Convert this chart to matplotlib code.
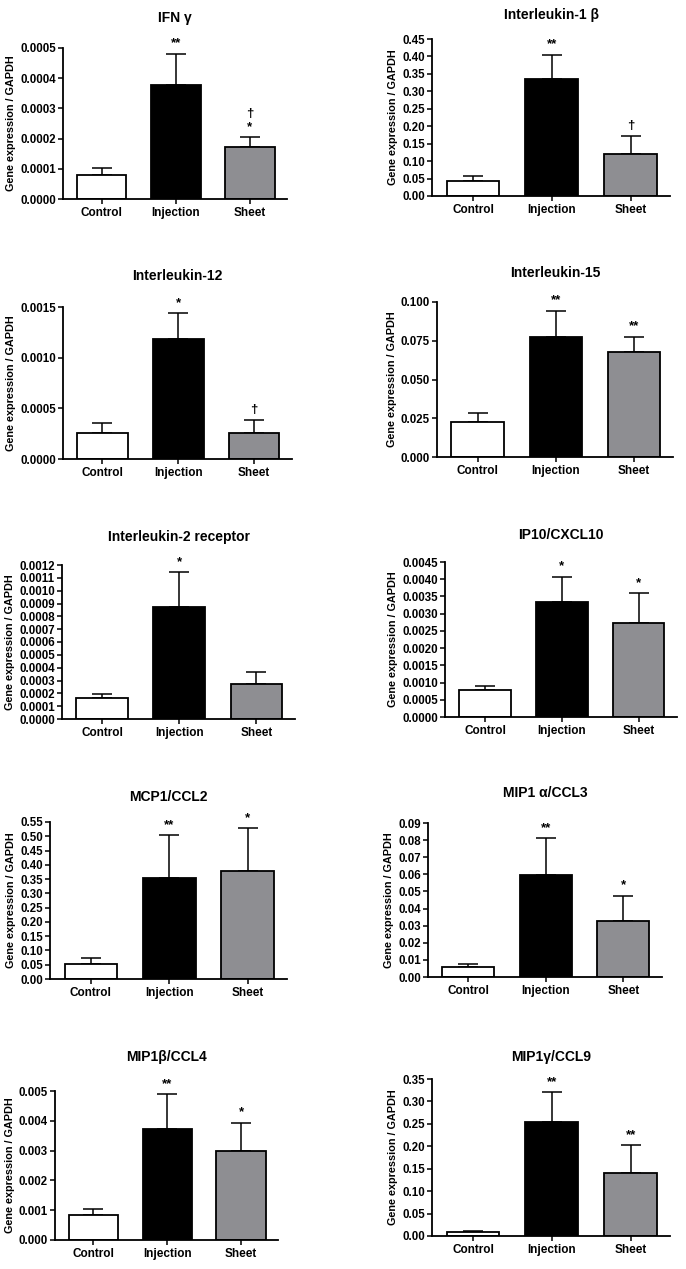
import numpy as np
import matplotlib
matplotlib.use("Agg")
import matplotlib.pyplot as plt

plt.rcParams['font.family'] = ['Liberation Sans', 'DejaVu Sans']
plt.rcParams['font.weight'] = 'bold'

# data
groups = ["Control", "Injection", "Sheet"]
titles = ["IFN γ", "Interleukin-1 β", "Interleukin-12", "Interleukin-15",
          "Interleukin-2 receptor", "IP10/CXCL10", "MCP1/CCL2", "MIP1 α/CCL3",
          "MIP1β/CCL4", "MIP1γ/CCL9"]
means = [
    [0.000078, 0.000376, 0.000172],
    [0.043, 0.336, 0.120],
    [0.00026, 0.00118, 0.00026],
    [0.0226, 0.0772, 0.0677],
    [0.000163, 0.00087, 0.000275],
    [0.000774, 0.00334, 0.00274],
    [0.054, 0.353, 0.377],
    [0.0057, 0.0597, 0.0327],
    [0.00084, 0.00374, 0.00299],
    [0.0089, 0.254, 0.141],
]
sems = [
    [0.000023, 0.000105, 0.000033],
    [0.014, 0.069, 0.052],
    [0.000098, 0.00026, 0.000124],
    [0.006, 0.0172, 0.0099],
    [0.000034, 0.000275, 0.000095],
    [0.000126, 0.00073, 0.00086],
    [0.018, 0.150, 0.152],
    [0.0021, 0.0215, 0.0149],
    [0.00019, 0.00115, 0.00095],
    [0.003, 0.066, 0.061],
]
marks = [
    ["", "**", "†\n*"],
    ["", "**", "†"],
    ["", "*", "†"],
    ["", "**", "**"],
    ["", "*", ""],
    ["", "*", "*"],
    ["", "**", "*"],
    ["", "**", "*"],
    ["", "**", "*"],
    ["", "**", "**"],
]
# y axis: top, step, decimals
ytop = [0.0005, 0.45, 0.0015, 0.100, 0.0012, 0.0045, 0.55, 0.09, 0.005, 0.35]
ystep = [0.0001, 0.05, 0.0005, 0.025, 0.0001, 0.0005, 0.05, 0.01, 0.001, 0.05]
ydec = [4, 2, 4, 3, 4, 4, 2, 2, 3, 2]

# axes boxes in pixels: left, top, right, bottom ; title gap in px
boxes = [
    (63, 48, 287, 199), (432, 39, 670, 196),
    (63, 307, 292, 459), (437, 302, 673, 457),
    (62, 565, 295, 719), (445, 562, 677, 717),
    (50, 822, 287, 979), (428, 823, 662, 977),
    (55, 1091, 278, 1240), (432, 1079, 670, 1236),
]
title_gap = [26, 20, 27, 25, 24, 23, 21, 26, 30, 18]

W, H = 686, 1269
fig = plt.figure(figsize=(W / 100, H / 100), dpi=100)
colors = ["white", "black", "#8e8e92"]
x = np.arange(len(groups))

for i in range(len(titles)):
    l, t, r, b = boxes[i]
    ax = fig.add_axes([l / W, 1 - b / H, (r - l) / W, (b - t) / H])
    ax.bar(x, means[i], width=0.67, color=colors, edgecolor="black",
           linewidth=1.3, zorder=2)
    ax.errorbar(x, means[i], yerr=[np.zeros(3), sems[i]], fmt="none",
                ecolor="black", elinewidth=1.1, capsize=7, capthick=1.1,
                zorder=1)
    for j in range(3):
        if marks[i][j]:
            ax.annotate(marks[i][j], (x[j], means[i][j] + sems[i][j]),
                        xytext=(0, 3), textcoords="offset points",
                        ha="center", va="bottom", fontsize=9.5,
                        fontweight="bold", linespacing=1.1)
    ax.set_xlim(-0.52, 2.5)
    ax.set_ylim(0, ytop[i])
    ax.set_yticks(np.arange(0, ytop[i] + ystep[i] / 2, ystep[i]))
    ax.set_yticklabels([f"{v:.{ydec[i]}f}" for v in ax.get_yticks()])
    ax.set_xticks(x)
    ax.set_xticklabels(groups)
    ax.tick_params(axis="both", width=1.1, length=3.5, labelsize=8.3, pad=1.5)
    ax.tick_params(axis="x", labelsize=8.5, pad=2)
    for lab in ax.get_xticklabels() + ax.get_yticklabels():
        lab.set_fontweight("bold")
    for s in ["top", "right"]:
        ax.spines[s].set_visible(False)
    for s in ["left", "bottom"]:
        ax.spines[s].set_linewidth(1.3)
    ax.set_ylabel("Gene expression / GAPDH", fontsize=7.8, fontweight="bold",
                  labelpad=3)
    ax.set_title(titles[i], fontsize=10, fontweight="bold",
                 pad=title_gap[i] * 0.72)

fig.savefig("out.png", dpi=100)
